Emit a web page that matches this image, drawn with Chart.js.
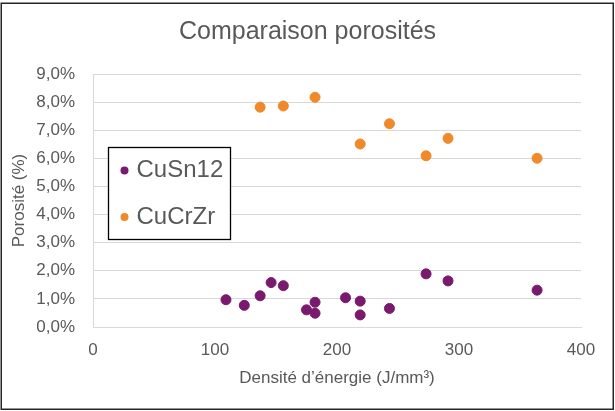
<!DOCTYPE html>
<html>
<head>
<meta charset="utf-8">
<script src="https://cdn.jsdelivr.net/npm/chart.js@4/dist/chart.umd.min.js"></script>
<style>
  html, body { margin: 0; padding: 0; background: #fff; }
  #wrap { width: 615px; height: 411px; position: relative; }
</style>
</head>
<body>
<div id="wrap"><canvas id="c" width="615" height="411"></canvas></div>
<script>
// Energy density (J/mm³) and porosity (%) for each alloy
const cuSn12Energy   = [109, 124, 137, 146, 156, 175, 182, 182, 207, 219, 219, 243, 273, 291, 364];
const cuSn12Porosity = [0.97, 0.77, 1.11, 1.58, 1.47, 0.61, 0.88, 0.49, 1.04, 0.92, 0.43, 0.66, 1.89, 1.64, 1.31];

const cuCrZrEnergy   = [137, 156, 182, 219, 243, 273, 291, 364];
const cuCrZrPorosity = [7.82, 7.86, 8.17, 6.51, 7.23, 6.09, 6.71, 6.00];

const seriesNames = ['CuSn12', 'CuCrZr'];
const chartTitle = 'Comparaison porosités';
const xTitle = 'Densité d’énergie (J/mm³)';
const yTitle = 'Porosité (%)';

const FONT = '"Liberation Sans", Arial, sans-serif';
const TEXT = '#595959';
const GRID = '#d9d9d9';
const PURPLE = '#7a1a6e';
const ORANGE = '#f0892a';

function toPoints(xs, ys) {
  return xs.map((x, i) => ({ x: x, y: ys[i] }));
}

// White page with a dark frame
const framePlugin = {
  id: 'frame',
  beforeDraw(chart) {
    const ctx = chart.ctx;
    ctx.save();
    ctx.fillStyle = '#fff';
    ctx.fillRect(0, 0, chart.width, chart.height);
    ctx.restore();
  },
  afterDraw(chart) {
    const ctx = chart.ctx;
    ctx.save();
    ctx.strokeStyle = '#262626';
    ctx.lineWidth = 1.5;
    ctx.strokeRect(1.25, 3.25, chart.width - 3, chart.height - 5);
    ctx.restore();
  }
};

// Boxed legend placed inside the plot area
const insetLegend = {
  id: 'insetLegend',
  afterDraw(chart) {
    const ctx = chart.ctx;
    const box = { x: 108.5, y: 147.5, w: 122, h: 92 };
    ctx.save();
    ctx.fillStyle = '#fff';
    ctx.fillRect(box.x, box.y, box.w, box.h);
    ctx.strokeStyle = '#000';
    ctx.lineWidth = 1.3;
    ctx.strokeRect(box.x, box.y, box.w, box.h);
    ctx.font = '24px ' + FONT;
    ctx.textBaseline = 'middle';
    chart.data.datasets.forEach((ds, i) => {
      const cy = box.y + 23 + i * 46.5;
      ctx.beginPath();
      ctx.fillStyle = ds.backgroundColor;
      ctx.arc(box.x + 16, cy, 4, 0, Math.PI * 2);
      ctx.fill();
      ctx.fillStyle = TEXT;
      ctx.fillText(ds.label, box.x + 28, cy);
    });
    ctx.restore();
  }
};

new Chart(document.getElementById('c'), {
  type: 'scatter',
  data: {
    datasets: [
      {
        label: seriesNames[0],
        data: toPoints(cuSn12Energy, cuSn12Porosity),
        backgroundColor: PURPLE,
        borderColor: PURPLE,
        pointRadius: 5,
        pointHoverRadius: 5
      },
      {
        label: seriesNames[1],
        data: toPoints(cuCrZrEnergy, cuCrZrPorosity),
        backgroundColor: ORANGE,
        borderColor: ORANGE,
        pointRadius: 5,
        pointHoverRadius: 5
      }
    ]
  },
  options: {
    responsive: false,
    animation: false,
    layout: { padding: 0 },
    plugins: {
      legend: { display: false },
      tooltip: { enabled: false },
      title: {
        display: true,
        text: chartTitle,
        color: TEXT,
        font: { family: FONT, size: 25, weight: 'normal', lineHeight: 1.2 },
        padding: { top: 17, bottom: 27 }
      }
    },
    scales: {
      x: {
        type: 'linear',
        min: 0,
        max: 400,
        ticks: {
          stepSize: 100,
          color: TEXT,
          padding: 13,
          font: { family: FONT, size: 17 },
          maxRotation: 0
        },
        grid: { display: false, drawTicks: false },
        border: { display: true, color: GRID, width: 1 },
        title: {
          display: true,
          text: xTitle,
          color: TEXT,
          font: { family: FONT, size: 17 },
          padding: { top: 0, bottom: 22 }
        },
        afterFit(scale) { scale.height = 84; }
      },
      y: {
        type: 'linear',
        min: 0,
        max: 9,
        ticks: {
          stepSize: 1,
          color: TEXT,
          padding: 18,
          font: { family: FONT, size: 17 },
          callback: v => v.toFixed(1).replace('.', ',') + '%'
        },
        grid: { color: GRID, lineWidth: 1, drawTicks: false },
        border: { display: true, color: GRID, width: 1 },
        title: {
          display: true,
          text: yTitle,
          color: TEXT,
          font: { family: FONT, size: 17 },
          padding: { top: 9, bottom: 0 }
        },
        afterFit(scale) { scale.width = 93; }
      },
      // Empty right-hand margin so the title stays centred on the page
      yMargin: {
        type: 'linear',
        position: 'right',
        min: 0,
        max: 9,
        ticks: { display: false },
        grid: { display: false, drawTicks: false },
        border: { display: false },
        afterFit(scale) { scale.width = 34; }
      }
    }
  },
  plugins: [framePlugin, insetLegend]
});
</script>
</body>
</html>
